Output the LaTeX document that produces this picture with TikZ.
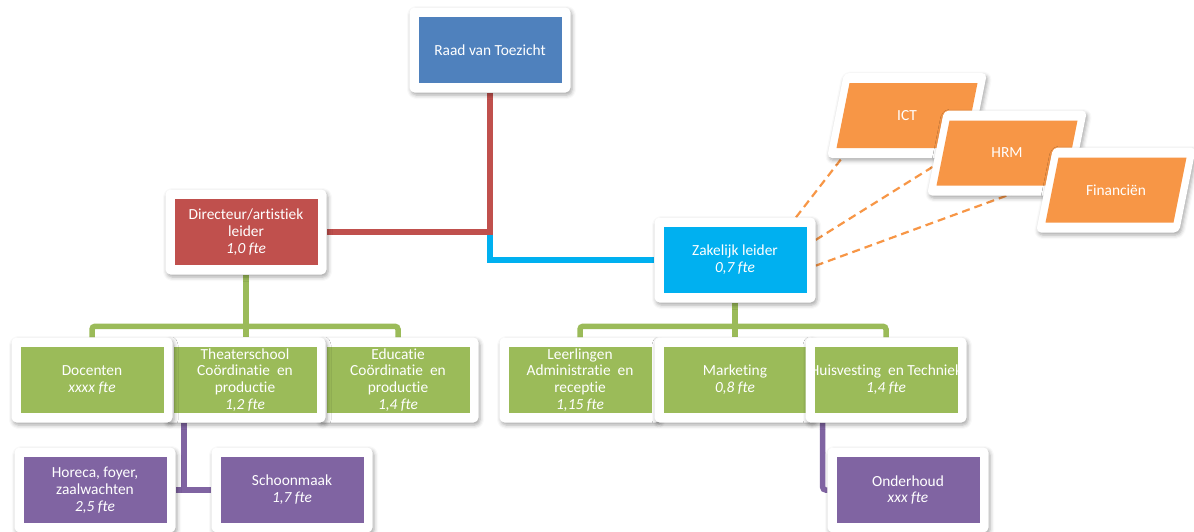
\documentclass[tikz,border=0pt]{standalone}
\usepackage{fontspec}
\setmainfont{Carlito}[Ligatures=NoCommon]
\usetikzlibrary{shadows.blur,backgrounds}
\definecolor{raad-blue}{HTML}{4F81BD}
\definecolor{dir-red}{HTML}{C0504D}
\definecolor{zak-blue}{HTML}{00B0F0}
\definecolor{staf-orange}{HTML}{F79646}
\definecolor{team-green}{HTML}{9BBB59}
\definecolor{team-purple}{HTML}{8064A2}
\tikzset{
    white-frame/.style = {fill=white, rectangle, rounded corners=5pt, minimum width=161pt, minimum height=85pt, inner sep=0pt,
        blur shadow={shadow xshift=1.5pt, shadow yshift=-2.5pt, shadow blur radius=4pt, shadow opacity=35}},
    org-cell/.style = {fill=#1, text=white, rectangle, minimum width=143pt, minimum height=66pt, inner sep=0pt, align=center,
        font=\fontsize{15.4}{16.8}\selectfont},
    slant-frame/.style = {white-frame, xslant=0.2, minimum width=143pt},
    slant-cell/.style = {fill=staf-orange, rectangle, xslant=0.2, minimum width=128pt, minimum height=65pt, inner sep=0pt},
    slant-text/.style = {text=white, inner sep=0pt, font=\fontsize{15.4}{16.8}\selectfont},
    tree-line/.style = {draw=#1, line width=5.5pt},
    dash-link/.style = {draw=staf-orange, line width=2.2pt, dash pattern=on 8pt off 5pt},
}
\begin{document}
\begin{tikzpicture}[x=1pt, y=-1pt]
\useasboundingbox (0,0) rectangle (1194,531);

\node[white-frame] (raad) at (490,50) {};
\node[org-cell=raad-blue] (raad-in) at (raad) {Raad van Toezicht};

\node[white-frame] (dir) at (246,232) {};
\node[org-cell=dir-red] (dir-in) at (dir) {Directeur/artistiek\\leider\\\textit{1,0 fte}};

\node[white-frame] (zak) at (735,260) {};
\node[org-cell=zak-blue] (zak-in) at (zak) {Zakelijk leider\\\textit{0,7 fte}};

\node[shift={(907,115.5)}, slant-frame] (ict) {};
\node[shift={(907,115.5)}, slant-cell] (ict-in) {};
\node[slant-text] (ict-txt) at (ict) {ICT};

\node[shift={(1007,153)}, slant-frame] (hrm) {};
\node[shift={(1007,153)}, slant-cell] (hrm-in) {};
\node[slant-text] (hrm-txt) at (hrm) {HRM};

\node[shift={(1116,190)}, slant-frame] (fin) {};
\node[shift={(1116,190)}, slant-cell] (fin-in) {};
\node[slant-text] (fin-txt) at (fin) {Financiën};

\node[white-frame] (edu) at (398,380) {};
\node[org-cell=team-green] (edu-in) at (edu) {Educatie\\Coördinatie~ en\\productie\\\textit{1,4 fte}};
\node[white-frame] (theat) at (245,380) {};
\node[org-cell=team-green] (theat-in) at (theat) {Theaterschool\\Coördinatie~ en\\productie\\\textit{1,2 fte}};
\node[white-frame] (doc) at (92,380) {};
\node[org-cell=team-green] (doc-in) at (doc) {Docenten\\\textit{xxxx fte}};

\node[white-frame] (leer) at (580,380) {};
\node[org-cell=team-green] (leer-in) at (leer) {Leerlingen\\Administratie~ en\\receptie\\\textit{1,15 fte}};
\node[white-frame] (mark) at (735,380) {};
\node[org-cell=team-green] (mark-in) at (mark) {Marketing\\\textit{0,8 fte}};
\node[white-frame] (huis) at (886,380) {};
\node[org-cell=team-green] (huis-in) at (huis) {\makebox[0pt]{Huisvesting~ en Techniek}\\\textit{1,4 fte}};

\node[white-frame] (hor) at (95,490) {};
\node[org-cell=team-purple] (hor-in) at (hor) {Horeca, foyer,\\zaalwachten\\\textit{2,5 fte}};
\node[white-frame] (schoon) at (292,490) {};
\node[org-cell=team-purple] (schoon-in) at (schoon) {Schoonmaak\\\textit{1,7 fte}};
\node[white-frame] (ond) at (908,490) {};
\node[org-cell=team-purple] (ond-in) at (ond) {Onderhoud\\\textit{xxx fte}};

\begin{scope}[on background layer]
\draw[tree-line=zak-blue] (raad.south |- dir.east) |- (zak.west);
\draw[tree-line=dir-red] (raad.south) |- (dir.east);
\draw[tree-line=team-green] (dir.south) -- (dir.south |- theat.north);
\draw[tree-line=team-green, rounded corners=3pt] (doc.north) -- ++(0,-11) -| (edu.north);
\draw[tree-line=team-green] (zak.south) -- (mark.north);
\draw[tree-line=team-green, rounded corners=3pt] (leer.north) -- ++(0,-11) -| (huis.north);
\draw[tree-line=team-purple] (theat.215) -- (theat.215 |- hor.east);
\draw[tree-line=team-purple] (hor.east) -- (schoon.west);
\draw[tree-line=team-purple, rounded corners=3pt] (huis.214) |- (ond.west);
\draw[dash-link] (zak.35) -- (ict.217);
\draw[dash-link] (zak.14) -- (hrm.191);
\draw[dash-link] (zak.-4) -- (fin.173);
\end{scope}
\end{tikzpicture}
\end{document}
